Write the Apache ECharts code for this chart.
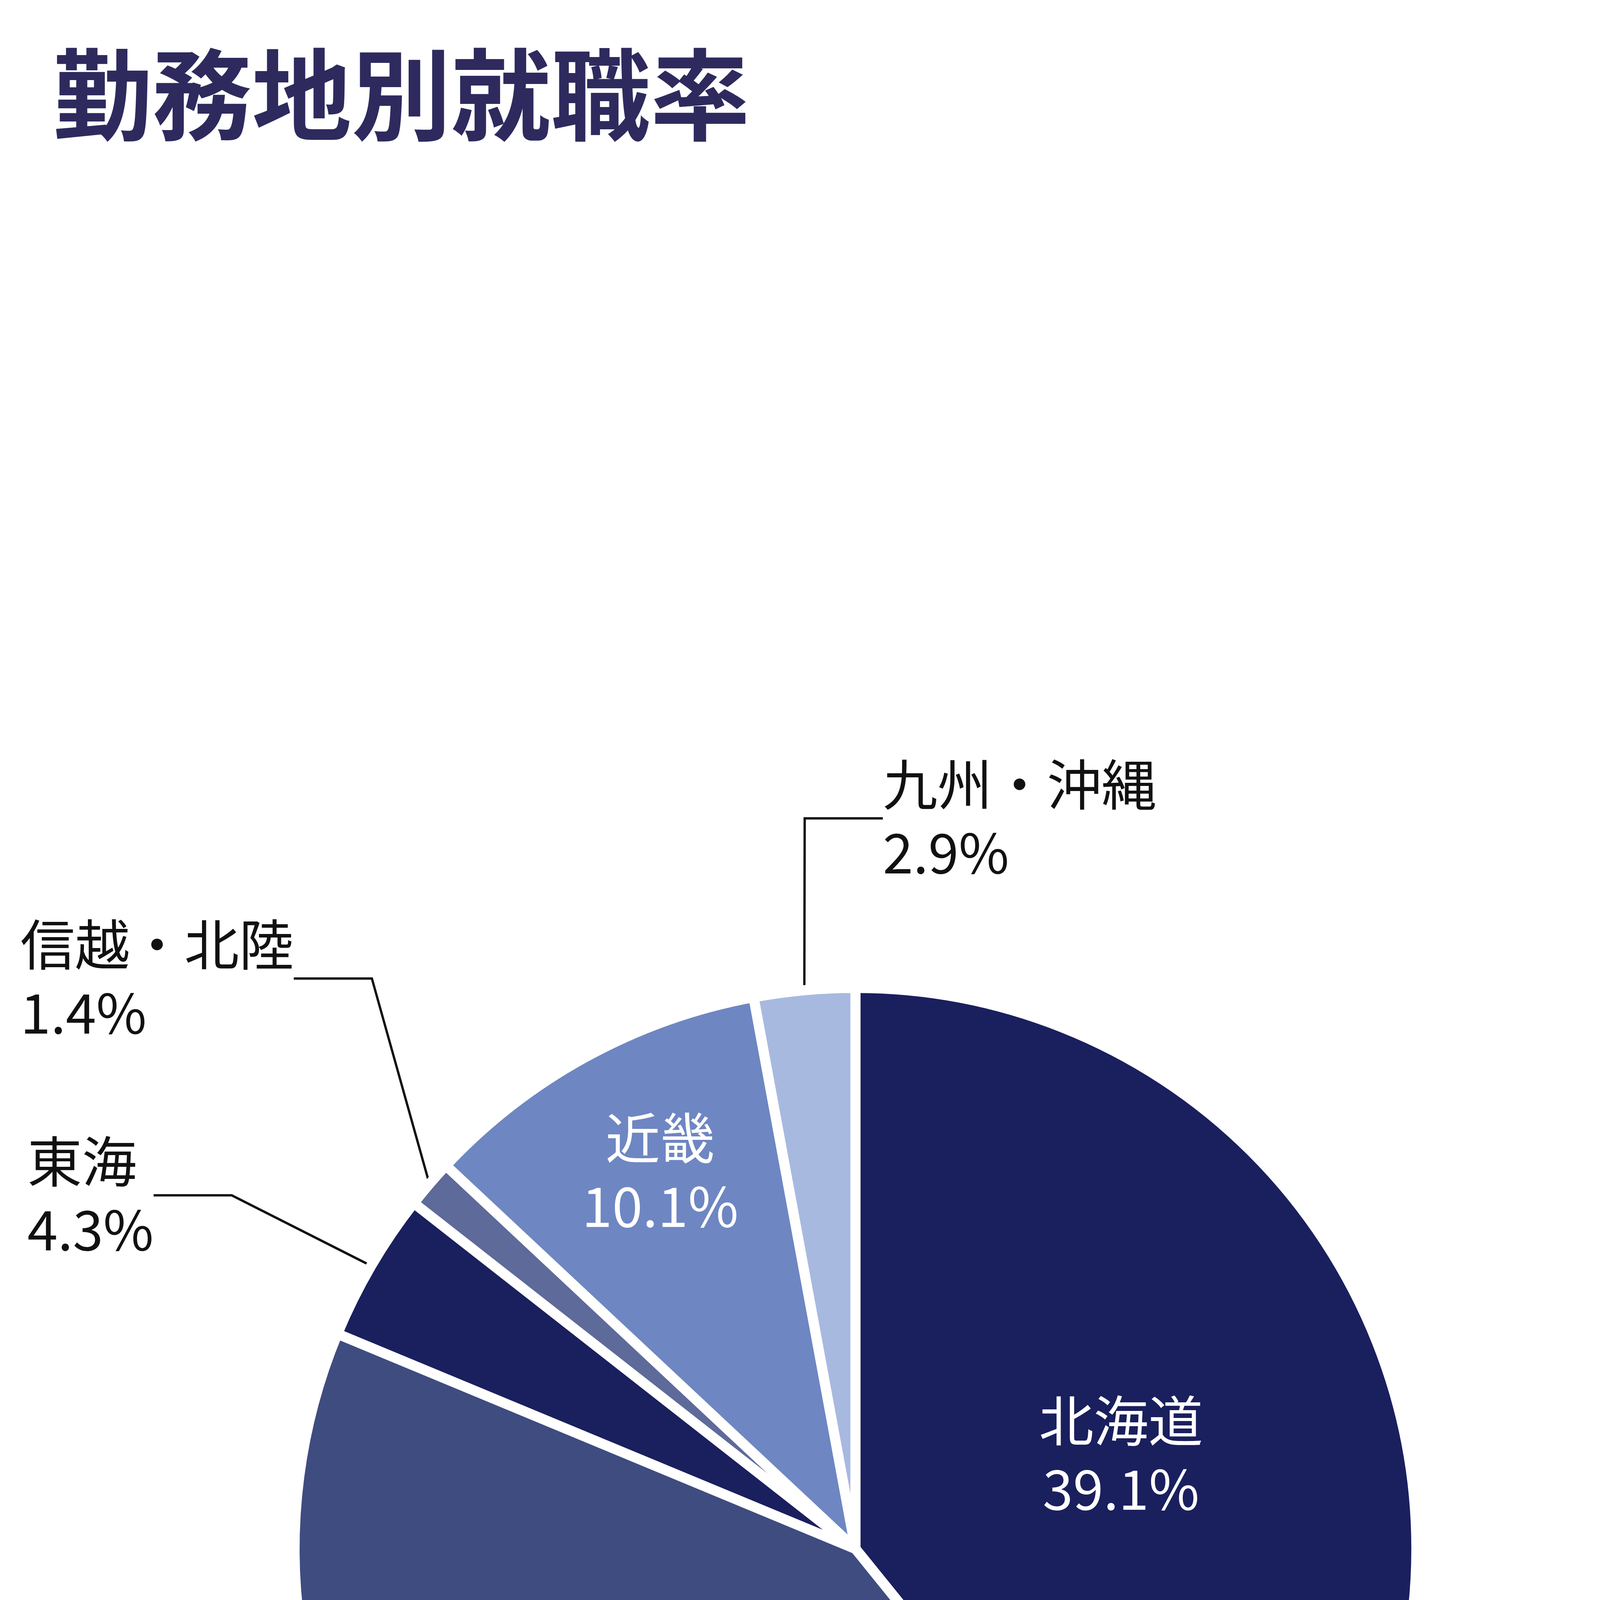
<!DOCTYPE html>
<html><head><meta charset="utf-8">
<script src="https://cdn.jsdelivr.net/npm/echarts@6/dist/echarts.min.js"></script>
<style>html,body{margin:0;padding:0;background:#fff}#c{width:4184px;height:5517px}</style>
</head><body><div id="c"></div>
<script>
const categories = ['北海道','関東','東海','信越・北陸','近畿','九州・沖縄'];
const values = [39.1, 42.0, 4.3, 1.4, 10.1, 2.9];
const colors = ['#1a1f5e','#3f4c80','#1a1f5e','#5d6a9a','#6e86c2','#a8b9e0'];
const insideSet = ['北海道','関東','近畿'];
const layoutPos = {
  '近畿': {x:1690, y:3000, align:'center'},
  '九州・沖縄': {x:2260, y:2095, align:'left'},
  '信越・北陸': {x:52, y:2505, align:'left'},
  '東海': {x:70, y:3060, align:'left'}
};
const chart = echarts.init(document.getElementById('c'));
const font = '"Noto Sans CJK JP","Noto Sans",sans-serif';
chart.setOption({
  animation:false,
  title:{text:'勤務地別就職率',left:130,top:110,textStyle:{fontFamily:font,fontSize:255,fontWeight:'bold',color:'#2e2a5e'}},
  series:[{
    type:'pie', center:[2190,3965], radius:[0,1436], startAngle:90, clockwise:true,
    itemStyle:{borderColor:'#fff',borderWidth:26},
    data: categories.map((c,i)=>{
      const inside = insideSet.includes(c);
      return {name:c, value:values[i], itemStyle:{color:colors[i]},
        label:{position: inside?'inside':'outside', color: inside?'#fff':'#111',
          formatter:'{b}\n{c}%', fontSize:140, lineHeight:175, fontFamily:font, align:'left'},
        labelLine:{show:!inside, lineStyle:{color:'#111',width:6}, length:200, length2:200}};
    }),
    labelLayout: function(p){
      const pos = layoutPos[categories[p.dataIndex]];
      if(!pos) return {};
      return {x:pos.x, y:pos.y, align:pos.align, verticalAlign:'middle'};
    }
  }]
});
</script></body></html>
